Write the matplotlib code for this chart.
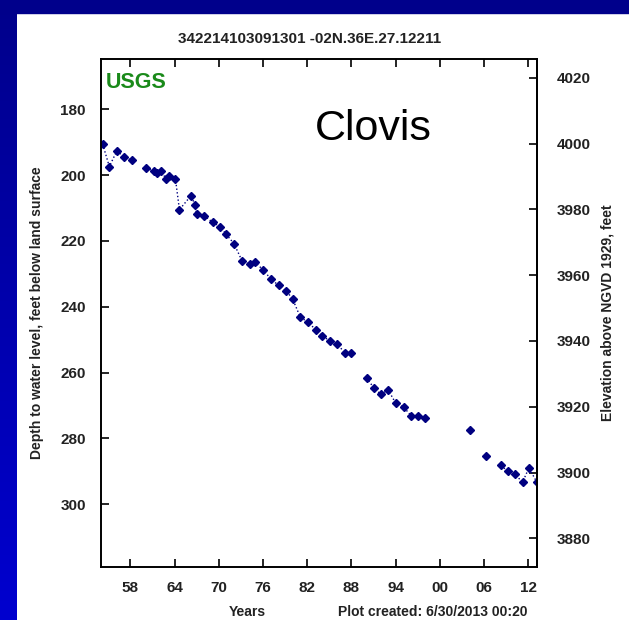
import numpy as np
import matplotlib
matplotlib.use("Agg")
import matplotlib.pyplot as plt
from matplotlib.patches import Rectangle

plt.rcParams['font.family'] = ['Liberation Sans Narrow', 'Liberation Sans', 'DejaVu Sans']

# water level record, well 342214103091301
years = [1954.23, 1955.13, 1956.14, 1957.17, 1958.22, 1960.12, 1961.21, 1961.58,
         1962.20, 1962.84, 1963.25, 1964.11, 1964.65, 1966.20, 1966.83, 1966.97,
         1968.05, 1969.14, 1970.19, 1971.00, 1972.05, 1973.14, 1974.18, 1974.95,
         1976.00, 1977.09, 1978.11, 1979.17, 1980.03, 1981.07, 1982.12, 1983.16,
         1984.03, 1985.06, 1986.11, 1987.10, 1987.97, 1990.05, 1991.10, 1992.00,
         1993.00, 1994.04, 1995.09, 1996.14, 1996.99, 1998.04, 2004.11, 2006.24,
         2008.33, 2009.20, 2010.19, 2011.24, 2012.10, 2013.18]
depth = [190.6, 197.4, 192.7, 194.4, 195.5, 197.9, 198.8, 199.3,
         198.7, 201.3, 200.2, 201.2, 210.5, 206.3, 209.2, 211.9,
         212.4, 214.3, 215.7, 218.0, 220.8, 226.0, 227.0, 226.5,
         228.8, 231.6, 233.5, 235.2, 237.7, 243.2, 244.7, 247.0,
         248.9, 250.3, 251.3, 254.1, 254.1, 261.6, 264.8, 266.6,
         265.3, 269.4, 270.5, 273.2, 273.2, 273.7, 277.5, 285.4,
         288.2, 290.0, 290.9, 293.3, 289.0, 293.3]
land_surface = 4190.4
year_ticks = [1958, 1964, 1970, 1976, 1982, 1988, 1994, 2000, 2006, 2012]
depth_ticks = [180, 200, 220, 240, 260, 280, 300]
elev_ticks = [3880, 3900, 3920, 3940, 3960, 3980, 4000, 4020]

fig = plt.figure(figsize=(6.29, 6.20), dpi=100, facecolor='white')

# blue slide frame
grad = fig.add_axes([0, 0, 17 / 629, 1])
grad.imshow(np.linspace(0, 1, 256).reshape(-1, 1), aspect='auto',
            cmap=matplotlib.colors.LinearSegmentedColormap.from_list('b', ['#00008b', '#0000cf']),
            extent=[0, 1, 0, 1], origin='upper')
grad.axis('off')
fig.patches.append(Rectangle((0, 1 - 13 / 620), 1, 13 / 620, transform=fig.transFigure,
                             color='#00008b', zorder=5))

ax = fig.add_axes([101 / 629, 1 - 566.7 / 620, 436 / 629, 507.4 / 620])

# dotted line broken where gaps are long
x = np.array(years)
y = np.array(depth)
lx, ly = [x[0]], [y[0]]
for i in range(1, len(x)):
    if x[i] - x[i - 1] > 1.6:
        lx.append(np.nan)
        ly.append(np.nan)
    lx.append(x[i])
    ly.append(y[i])
ax.plot(lx, ly, ':', color='#000080', lw=1.0, clip_on=True)
ax.plot(x, y, 'D', color='#000080', ms=4.2, mec='#000080', clip_on=True)

ax.set_xlim(1954.0, 2013.2)
ax.set_ylim(319.0, 164.8)
ax.set_xticks(year_ticks)
ax.set_xticklabels(['%02d' % (t % 100) for t in year_ticks])
ax.set_yticks(depth_ticks)
ax.tick_params(axis='both', direction='in', length=6, width=1.2, labelsize=11,
               top=True, bottom=True, left=True, right=False)
ax.tick_params(axis='x', pad=10)
ax.tick_params(axis='y', pad=11)
for lab in ax.get_xticklabels() + ax.get_yticklabels():
    lab.set_fontweight('bold')
    lab.set_color('#222222')
for s in ax.spines.values():
    s.set_linewidth(1.4)

sec = ax.secondary_yaxis('right', functions=(lambda d: land_surface - d,
                                             lambda e: land_surface - e))
sec.set_yticks(elev_ticks)
sec.tick_params(direction='in', length=6, width=1.2, labelsize=11, pad=14)
for lab in sec.get_yticklabels():
    lab.set_fontweight('bold')
    lab.set_color('#222222')
sec.spines['right'].set_linewidth(1.4)

ax.set_ylabel('Depth to water level, feet below land surface', fontsize=10,
              fontweight='bold', color='#222222', labelpad=12)
sec.set_ylabel('Elevation above NGVD 1929, feet', fontsize=10,
               fontweight='bold', color='#222222', labelpad=7)

ax.text(5 / 436, 1 - 23 / 507.4, 'USGS', transform=ax.transAxes, ha='left',
        va='center', fontsize=15.5, fontweight='bold', color='#1a8a1a',
        family='Liberation Sans')
ax.text(272 / 436, 1 - 70 / 507.4, 'Clovis', transform=ax.transAxes, ha='center',
        va='center', fontsize=31, color='black', family='Liberation Sans')

fig.text(310 / 629, 1 - 39 / 620, '342214103091301 -02N.36E.27.12211', ha='center',
         va='center', fontsize=11, fontweight='bold', color='#222222')
fig.text(247 / 629, 1 - 612 / 620, 'Years', ha='center', va='center', fontsize=10,
         fontweight='bold', color='#222222')
fig.text(433 / 629, 1 - 612 / 620, 'Plot created: 6/30/2013 00:20', ha='center',
         va='center', fontsize=10, fontweight='bold', color='#222222')

fig.savefig('out.png', dpi=100, facecolor='white')
